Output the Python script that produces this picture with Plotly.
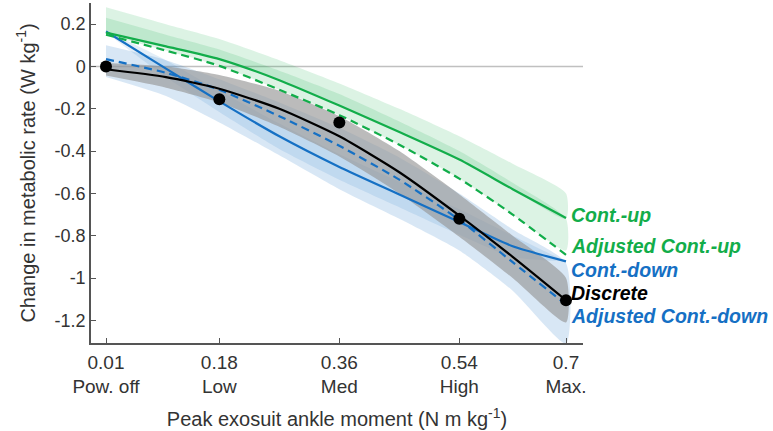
import plotly.graph_objects as go

# exosuit moment levels (N m kg-1)
x_grid = [0.01, 0.10, 0.18, 0.27, 0.36, 0.45, 0.54, 0.62, 0.70]

# fitted curves
discrete_fit = [-0.013, -0.05, -0.105, -0.2, -0.33, -0.5, -0.705, -0.9, -1.105]
cont_up = [0.16, 0.095, 0.035, -0.065, -0.185, -0.31, -0.44, -0.58, -0.716]
adj_cont_up = [0.15, 0.075, 0.003, -0.11, -0.23, -0.37, -0.53, -0.70, -0.89]
cont_down = [0.165, -0.01, -0.165, -0.33, -0.475, -0.605, -0.735, -0.85, -0.921]
adj_cont_down = [0.035, -0.03, -0.11, -0.235, -0.375, -0.535, -0.725, -0.925, -1.125]

# confidence bands
discrete_hi = [0.017, 0.0, -0.04, -0.115, -0.235, -0.40, -0.605, -0.80, -1.0]
discrete_lo = [-0.043, -0.10, -0.17, -0.285, -0.425, -0.60, -0.805, -1.0, -1.21]
cont_up_hi = [0.28, 0.2, 0.13, 0.03, -0.08, -0.2, -0.33, -0.46, -0.60]
cont_up_lo = [0.16, 0.095, 0.035, -0.065, -0.185, -0.31, -0.44, -0.58, -0.72]
adj_up_hi = [0.23, 0.15, 0.08, -0.02, -0.13, -0.26, -0.40, -0.55, -0.72]
adj_up_lo = [0.15, 0.075, 0.003, -0.11, -0.23, -0.37, -0.53, -0.70, -0.87]
cont_down_hi = [0.165, 0.03, -0.115, -0.27, -0.415, -0.545, -0.675, -0.80, -0.921]
cont_down_lo = [0.165, -0.05, -0.215, -0.39, -0.535, -0.665, -0.795, -0.90, -0.921]
adj_down_hi = [0.10, 0.03, -0.06, -0.17, -0.29, -0.43, -0.60, -0.77, -0.93]
adj_down_lo = [-0.05, -0.14, -0.265, -0.42, -0.58, -0.72, -0.87, -1.06, -1.31]

# measured discrete conditions
discrete_x = [0.01, 0.18, 0.36, 0.54, 0.70]
discrete_y = [0.0, -0.155, -0.265, -0.72, -1.105]

tick_vals = [0.01, 0.18, 0.36, 0.54, 0.7]
tick_text = ["0.01<br>Pow. off", "0.18<br>Low", "0.36<br>Med", "0.54<br>High", "0.7<br>Max."]
y_ticks = [0.2, 0, -0.2, -0.4, -0.6, -0.8, -1, -1.2]
y_text = ["0.2", "0", "-0.2", "-0.4", "-0.6", "-0.8", "-1", "-1.2"]

GREEN = "#12ad4a"
BLUE = "#1570c4"
FONT = "Liberation Sans, Arial, sans-serif"

fig = go.Figure()


def add_band(hi, lo, color):
    fig.add_trace(
        go.Scatter(
            x=x_grid + x_grid[::-1],
            y=hi + lo[::-1],
            fill="toself",
            fillcolor=color,
            line=dict(width=0, shape="spline", smoothing=0.6),
            mode="lines",
            hoverinfo="skip",
            showlegend=False,
        )
    )


add_band(adj_down_hi, adj_down_lo, "rgba(21,112,196,0.17)")
add_band(cont_down_hi, cont_down_lo, "rgba(21,112,196,0.12)")
add_band(discrete_hi, discrete_lo, "rgba(150,150,150,0.65)")
add_band(cont_up_hi, cont_up_lo, "rgba(18,173,74,0.15)")
add_band(adj_up_hi, adj_up_lo, "rgba(18,173,74,0.15)")


def add_line(y, color, dash="solid"):
    fig.add_trace(
        go.Scatter(
            x=x_grid,
            y=y,
            mode="lines",
            line=dict(color=color, width=2.2, dash=dash, shape="spline", smoothing=0.6),
            showlegend=False,
        )
    )


add_line(cont_down, BLUE)
add_line(adj_cont_down, BLUE, "8px,5px")
add_line(adj_cont_up, GREEN, "8px,5px")
add_line(cont_up, GREEN)
add_line(discrete_fit, "black")

fig.add_trace(
    go.Scatter(
        x=discrete_x,
        y=discrete_y,
        mode="markers",
        marker=dict(color="black", size=12),
        cliponaxis=False,
        showlegend=False,
    )
)

# zero reference
fig.add_shape(
    type="line", xref="paper", yref="y", x0=0, x1=1, y0=0, y1=0,
    line=dict(color="#c0c0c0", width=1.5), layer="below",
)

labels = [
    ("Cont.-up", -0.70, GREEN),
    ("Adjusted Cont.-up", -0.85, GREEN),
    ("Cont.-down", -0.96, BLUE),
    ("Discrete", -1.07, "black"),
    ("Adjusted Cont.-down", -1.18, BLUE),
]
for text, ypos, color in labels:
    fig.add_annotation(
        x=0.7, y=ypos, text=f"<b><i>{text}</i></b>", showarrow=False,
        xanchor="left", yanchor="middle", xshift=3,
        font=dict(size=19.5, color=color, family=FONT),
    )

fig.update_layout(
    width=773,
    height=431,
    margin=dict(l=91, r=190, t=3, b=88),
    paper_bgcolor="white",
    plot_bgcolor="white",
    font=dict(family=FONT, color="#333333"),
    showlegend=False,
)

fig.update_xaxes(
    range=[-0.0125, 0.7255],
    tickvals=tick_vals,
    ticktext=tick_text,
    ticks="inside",
    ticklen=5,
    tickcolor="#555555",
    tickfont=dict(size=19, color="#333333"),
    ticklabelstandoff=1,
    showline=True,
    linecolor="#555555",
    linewidth=1.5,
    showgrid=False,
    zeroline=False,
    automargin=False,
    title=dict(text="Peak exosuit ankle moment (N m kg<sup>-1</sup>)",
               font=dict(size=20, color="#333333"), standoff=16),
)

fig.update_yaxes(
    range=[-1.307, 0.30],
    tickvals=y_ticks,
    ticktext=y_text,
    ticks="inside",
    ticklen=5,
    tickcolor="#555555",
    tickfont=dict(size=18, color="#333333"),
    showline=True,
    linecolor="#555555",
    linewidth=1.5,
    showgrid=False,
    zeroline=False,
    automargin=False,
    title=dict(text="Change in metabolic rate (W kg<sup>-1</sup>)",
               font=dict(size=20, color="#333333"), standoff=14),
)

# drop the browser's default body margin so the figure sits at the page corner
fig.write_html(
    "out.html",
    config={"displayModeBar": False},
    post_script="document.body.style.margin = '0';",
)
